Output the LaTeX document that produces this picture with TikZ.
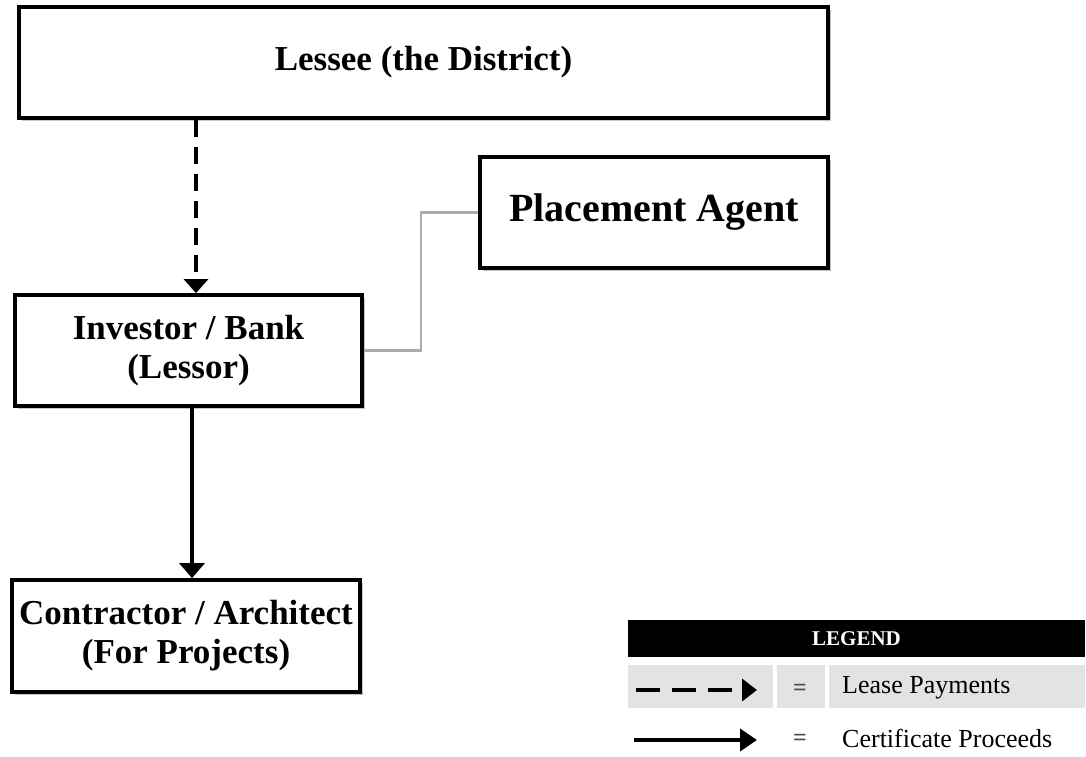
\documentclass[tikz,border=0pt]{standalone}
\usepackage{fontspec}
\setmainfont{Liberation Serif}
\usetikzlibrary{arrows.meta,shadows}
\begin{document}
\begin{tikzpicture}[x=1pt,y=-1pt,
  box/.style={draw=black, line width=3.8pt, fill=white, align=center, inner sep=0pt,
    font=\bfseries\fontsize{35}{39}\selectfont,
    drop shadow={shadow xshift=3pt, shadow yshift=-3pt, fill=gray!45, opacity=1}},
  conn/.style={draw=gray!65, line width=2.2pt},
  dasharrow/.style={line width=4pt, dash pattern=on 17pt off 10pt, -{Triangle[width=24pt,length=14pt]}},
  solidarrow/.style={line width=3.5pt, -{Triangle[width=25pt,length=15pt]}},
  legcell/.style={fill=gray!22, draw=none, inner sep=0pt},
  legtext/.style={anchor=west, inner sep=0pt, font=\fontsize{26}{30}\selectfont},
  eqtext/.style={inner sep=0pt, text=gray!60!black, font=\bfseries\fontsize{24}{28}\selectfont}
]
\useasboundingbox (0,0) rectangle (1086,756);
\fill[white] (0,0) rectangle (1086,756);

% boxes
\node[box, minimum width=809pt, minimum height=111pt] (lessee) at (423.5,62.5) {Lessee (the District)};
\node[box, minimum width=348pt, minimum height=111pt, font=\bfseries\fontsize{40}{44}\selectfont] (pa) at (654,212.5) {Placement Agent};
\node[box, minimum width=347pt, minimum height=111pt] (inv) at (188.5,350.5) {Investor / Bank\\(Lessor)};
\node[box, minimum width=348pt, minimum height=112pt] (con) at (186,636) {Contractor / Architect\\(For Projects)};

% connectors
\coordinate (dx) at (196,0);
\coordinate (sx) at (192,0);
\draw[dasharrow] (dx |- lessee.south) -- (dx |- inv.north);
\draw[solidarrow] (sx |- inv.south) -- (sx |- con.north);
\draw[conn] (inv.east) -- ++(57,0) |- (pa.west);

% legend
\node[fill=black, minimum width=457pt, minimum height=37pt, inner sep=0pt, text=white,
      font=\bfseries\fontsize{21}{24}\selectfont] (leg) at (856.5,638.5) {LEGEND};
\node[legcell, minimum width=145pt, minimum height=43pt] (c1) at (700.5,686.5) {};
\node[legcell, minimum width=48pt, minimum height=43pt] (c2) at (801,686.5) {};
\node[legcell, minimum width=256pt, minimum height=43pt] (c3) at (957,686.5) {};
\coordinate (l1s) at (636,690);
\coordinate (l1e) at (757,690);
\coordinate (l2s) at (634,740);
\coordinate (l2e) at (757,740);
\draw[line width=4pt, dash pattern=on 24pt off 12pt, -{Triangle[width=22pt,length=15pt]}] (l1s) -- (l1e);
\draw[line width=4pt, -{Triangle[width=22pt,length=17pt]}] (l2s) -- (l2e);
\node[eqtext] (eq1) at (800,690) {=};
\node[eqtext] (eq2) at (800,740) {=};
\node[legtext] (t1) at (842,688) {Lease Payments};
\node[legtext] (t2) at (842,738) {Certificate Proceeds};
\end{tikzpicture}
\end{document}
